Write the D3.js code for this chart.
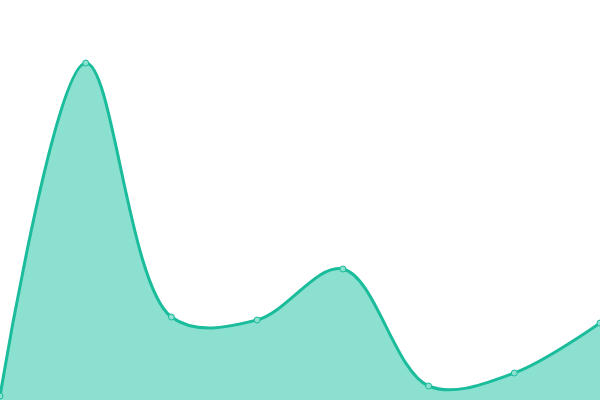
<!DOCTYPE html>
<html>
<head>
<meta charset="utf-8">
<script src="https://cdn.jsdelivr.net/npm/d3@7"></script>
<style>
  body { margin: 0; background: #fff; }
  svg { display: block; }
</style>
</head>
<body>
<svg id="chart" width="600" height="400"></svg>
<script>
var labels = [0, 1, 2, 3, 4, 5, 6, 7];
var values = [1, 84.25, 20.75, 20, 32.75, 3.5, 6.75, 19.25];

var width = 600, height = 400;
var svg = d3.select("#chart");

var data = labels.map(function (d, i) { return {x: d, y: values[i]}; });

var x = d3.scaleLinear().domain([0, 7]).range([0, width]);
var y = d3.scaleLinear().domain([0, 100]).range([height, 0]);

var area = d3.area()
    .x(function (d) { return x(d.x); })
    .y0(height)
    .y1(function (d) { return y(d.y); })
    .curve(d3.curveCatmullRom);

var line = d3.line()
    .x(function (d) { return x(d.x); })
    .y(function (d) { return y(d.y); })
    .curve(d3.curveCatmullRom);

svg.append("path")
    .datum(data)
    .attr("d", area)
    .attr("fill", "#8be0cf");

svg.append("path")
    .datum(data)
    .attr("d", line)
    .attr("fill", "none")
    .attr("stroke", "#1abc9c")
    .attr("stroke-width", 3);

svg.selectAll("circle")
    .data(data)
    .enter().append("circle")
    .attr("cx", function (d) { return x(d.x); })
    .attr("cy", function (d) { return y(d.y); })
    .attr("r", 3)
    .attr("fill", "#8be0cf")
    .attr("stroke", "#1abc9c")
    .attr("stroke-width", 1);
</script>
</body>
</html>
